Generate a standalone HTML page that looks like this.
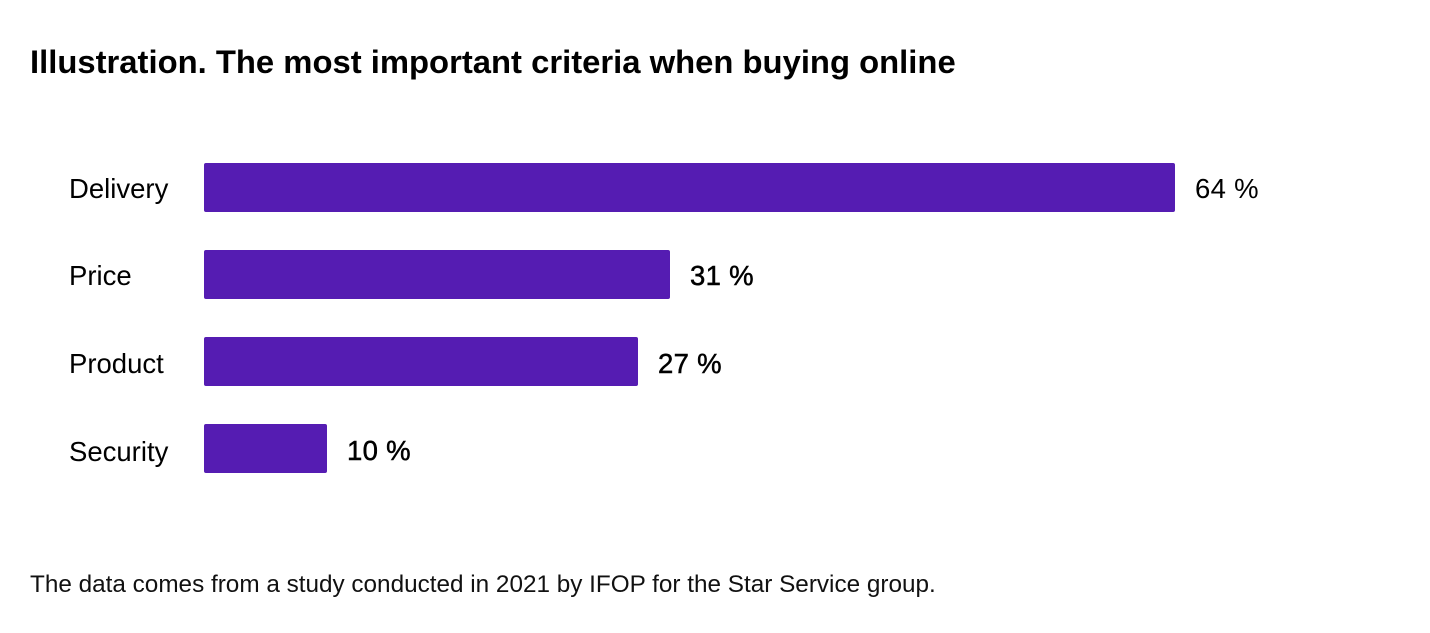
<!DOCTYPE html>
<html>
<head>
<meta charset="utf-8">
<style>
html,body{margin:0;padding:0;background:#fff;}
body{width:1430px;height:633px;position:relative;overflow:hidden;font-family:"Liberation Sans",Arial,sans-serif;color:#000;}
.t{position:absolute;white-space:nowrap;line-height:1;}
.title{left:30px;top:46px;font-size:32.8px;font-weight:bold;}
.lab{left:69px;font-size:27.5px;}
.bar{position:absolute;left:204px;height:49px;background:#551cb2;border-radius:2px;}
.val{font-size:27.5px;-webkit-text-stroke:0.5px #000;letter-spacing:0.3px;}
.foot{left:30px;top:573px;font-size:24.3px;color:#111;}
</style>
</head>
<body>
<div class="t title">Illustration. The most important criteria when buying online</div>

<div class="t lab" style="top:175px">Delivery</div>
<div class="bar" style="top:163px;width:971px"></div>
<div class="t val" style="left:1195px;top:175px;-webkit-text-stroke:0">64 %</div>

<div class="t lab" style="top:262px">Price</div>
<div class="bar" style="top:250px;width:466px"></div>
<div class="t val" style="left:690px;top:262px">31 %</div>

<div class="t lab" style="top:350px">Product</div>
<div class="bar" style="top:337px;width:434px"></div>
<div class="t val" style="left:658px;top:350px">27 %</div>

<div class="t lab" style="top:438px">Security</div>
<div class="bar" style="top:424px;width:123px"></div>
<div class="t val" style="left:347px;top:437px">10 %</div>

<div class="t foot">The data comes from a study conducted in 2021 by IFOP for the Star Service group.</div>
</body>
</html>
